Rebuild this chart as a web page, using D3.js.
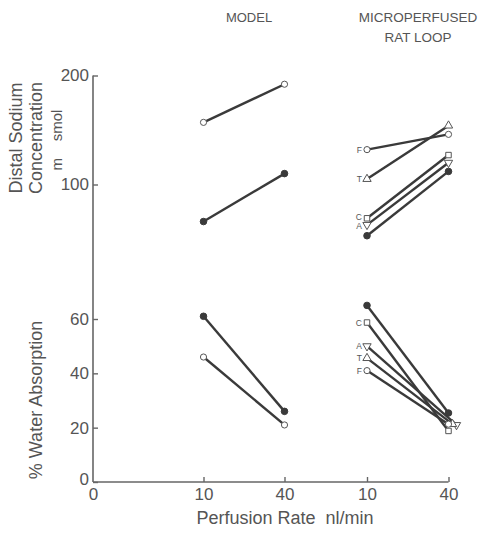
<!DOCTYPE html>
<html><head><meta charset="utf-8">
<script src="https://cdn.jsdelivr.net/npm/d3@7"></script>
<style>
body{margin:0;background:#fff}
svg{display:block}
text{font-family:"Liberation Sans",Arial,Helvetica,sans-serif;fill:#555}
</style>
</head><body>
<svg id="c" width="478" height="534"></svg>
<script>
// ---------- data ----------
const xKeys = ["origin", "model10", "model40", "rat10", "rat40"];
const xTickLabels = ["0", "10", "40", "10", "40"];
const sodiumTicks = [100, 200];
const waterTicks = [0, 20, 40, 60];

// Distal sodium concentration (m smol), values at 10 and 40 nl/min
const modelSodiumOpen   = [157, 192];
const modelSodiumFilled = [66, 110];
const ratSodiumF        = [132, 146];
const ratSodiumT        = [105, 154];
const ratSodiumC        = [69, 127];
const ratSodiumA        = [63, 120];
const ratSodiumFilled   = [53, 112];

// % water absorption, values at 10 and 40 nl/min
const modelWaterFilled = [61, 26];
const modelWaterOpen   = [46, 21];
const ratWaterFilled   = [65, 25.4];
const ratWaterC        = [58.7, 18.8];
const ratWaterA        = [50, 21];
const ratWaterT        = [45.6, 21.3];
const ratWaterF        = [41, 21.3];

const series = [
  {panel: "sodium", group: "model", sym: "circleOpen",   label: "",  values: modelSodiumOpen},
  {panel: "sodium", group: "model", sym: "circleFilled", label: "",  values: modelSodiumFilled},
  {panel: "sodium", group: "rat",   sym: "circleOpen",   label: "F", values: ratSodiumF},
  {panel: "sodium", group: "rat",   sym: "triUp",        label: "T", values: ratSodiumT},
  {panel: "sodium", group: "rat",   sym: "square",       label: "C", values: ratSodiumC},
  {panel: "sodium", group: "rat",   sym: "triDown",      label: "A", values: ratSodiumA},
  {panel: "sodium", group: "rat",   sym: "circleFilled", label: "",  values: ratSodiumFilled},
  {panel: "water",  group: "model", sym: "circleFilled", label: "",  values: modelWaterFilled},
  {panel: "water",  group: "model", sym: "circleOpen",   label: "",  values: modelWaterOpen},
  {panel: "water",  group: "rat",   sym: "circleFilled", label: "",  values: ratWaterFilled},
  {panel: "water",  group: "rat",   sym: "square",       label: "C", values: ratWaterC},
  {panel: "water",  group: "rat",   sym: "triDown",      label: "A", values: ratWaterA},
  {panel: "water",  group: "rat",   sym: "triUp",        label: "T", values: ratWaterT},
  {panel: "water",  group: "rat",   sym: "circleOpen",   label: "F", values: ratWaterF}
];

// ---------- layout ----------
const svg = d3.select("#c");
const axisX0 = 93, axisY0 = 482;
const x = d3.scaleOrdinal().domain(xKeys).range([93, 203.5, 284.5, 367, 448.5]);
const ySodium = d3.scaleLinear().domain([100, 200]).range([184.5, 75.5]);
const yWater = d3.scaleLinear().domain([0, 60]).range([482, 319]);
const yOf = {sodium: ySodium, water: yWater};
// small horizontal offsets used in the original to keep crowded end markers apart
const endOffset = {water: {triUp: 4, triDown: 8}};
// small vertical nudges for crowded letter labels
const labelNudge = {sodium: {C: -1.5, A: 1.5}};

const ink = "#3a3a3a", axisCol = "#666";

// axis lines
svg.append("line").attr("x1", axisX0).attr("x2", axisX0)
  .attr("y1", ySodium(200)).attr("y2", axisY0)
  .attr("stroke", axisCol).attr("stroke-width", 1.6);
svg.append("line").attr("x1", axisX0).attr("x2", x("rat40"))
  .attr("y1", axisY0).attr("y2", axisY0)
  .attr("stroke", axisCol).attr("stroke-width", 1.6);

function styleAxis(g) {
  g.select(".domain").remove();
  g.selectAll(".tick line").attr("stroke", axisCol).attr("stroke-width", 1.4);
  g.selectAll(".tick text").attr("fill", "#555")
    .style("font-family", '"Liberation Sans",Arial,sans-serif').style("font-size", "17px");
}

svg.append("g").attr("transform", `translate(${axisX0},0)`)
  .call(d3.axisLeft(ySodium).tickValues(sodiumTicks).tickSize(-5).tickPadding(4))
  .call(styleAxis);
svg.append("g").attr("transform", `translate(${axisX0},0)`)
  .call(d3.axisLeft(yWater).tickValues(waterTicks).tickSize(-5).tickPadding(4))
  .call(styleAxis)
  .selectAll(".tick").filter(d => d === 0).select("text").attr("dy", "0.15em");

const xAxis = d3.axisBottom(x).tickValues(xKeys)
  .tickFormat((d, i) => xTickLabels[i]).tickSize(-5).tickPadding(6);
svg.append("g").attr("transform", `translate(0,${axisY0})`)
  .call(xAxis).call(styleAxis)
  .selectAll(".tick").filter(d => d === "origin").select("line").remove();

// titles
function vtext(tx, ty, str, size) {
  svg.append("text").attr("transform", `translate(${tx},${ty}) rotate(-90)`)
    .attr("text-anchor", "middle").attr("xml:space", "preserve")
    .style("font-size", size + "px").text(str);
}
vtext(22, 138, "Distal Sodium", 18);
vtext(42, 138, "Concentration", 18);
vtext(62, 140, "m    smol", 15);
vtext(42, 400, "% Water Absorption", 18);

svg.append("text").attr("x", 285).attr("y", 524).attr("text-anchor", "middle")
  .attr("xml:space", "preserve").style("font-size", "18px").text("Perfusion Rate  nl/min");
svg.append("text").attr("x", 249).attr("y", 22).attr("text-anchor", "middle")
  .style("font-size", "13px").text("MODEL");
svg.append("text").attr("x", 418).attr("y", 22).attr("text-anchor", "middle")
  .style("font-size", "13.5px").text("MICROPERFUSED");
svg.append("text").attr("x", 418).attr("y", 42).attr("text-anchor", "middle")
  .style("font-size", "13.5px").text("RAT LOOP");

// ---------- marks ----------
function pts(s) {
  const k = s.group === "model" ? ["model10", "model40"] : ["rat10", "rat40"];
  const off = (endOffset[s.panel] && endOffset[s.panel][s.sym]) || 0;
  return s.values.map((v, i) => [x(k[i]) + (i === 1 ? off : 0), yOf[s.panel](v)]);
}

const lineGen = d3.line();
svg.append("g").selectAll("path").data(series).join("path")
  .attr("d", s => lineGen(pts(s)))
  .attr("fill", "none").attr("stroke", ink).attr("stroke-width", 2.4);

const symMap = {
  circleOpen: {type: d3.symbolCircle, size: 30, fill: "#fff", rot: 0},
  circleFilled: {type: d3.symbolCircle, size: 34, fill: ink, rot: 0},
  square: {type: d3.symbolSquare, size: 30, fill: "#fff", rot: 0},
  triUp: {type: d3.symbolTriangle, size: 30, fill: "#fff", rot: 0},
  triDown: {type: d3.symbolTriangle, size: 30, fill: "#fff", rot: 180}
};

const markers = [];
series.forEach(s => pts(s).forEach((p, i) => markers.push({s, p, i})));
svg.append("g").selectAll("path").data(markers).join("path")
  .attr("d", m => d3.symbol().type(symMap[m.s.sym].type).size(symMap[m.s.sym].size)())
  .attr("transform", m => `translate(${m.p[0]},${m.p[1]}) rotate(${symMap[m.s.sym].rot})`)
  .attr("fill", m => symMap[m.s.sym].fill)
  .attr("stroke", m => m.s.sym === "circleFilled" ? ink : "#555")
  .attr("stroke-width", 1);

// letter labels next to the 10 nl/min markers
svg.append("g").selectAll("text").data(series.filter(s => s.label)).join("text")
  .attr("x", s => pts(s)[0][0] - 5)
  .attr("y", s => pts(s)[0][1] + ((labelNudge[s.panel] && labelNudge[s.panel][s.label]) || 0))
  .attr("dy", "0.36em").attr("text-anchor", "end")
  .style("font-size", "8.5px").text(s => s.label);
</script>
</body></html>
